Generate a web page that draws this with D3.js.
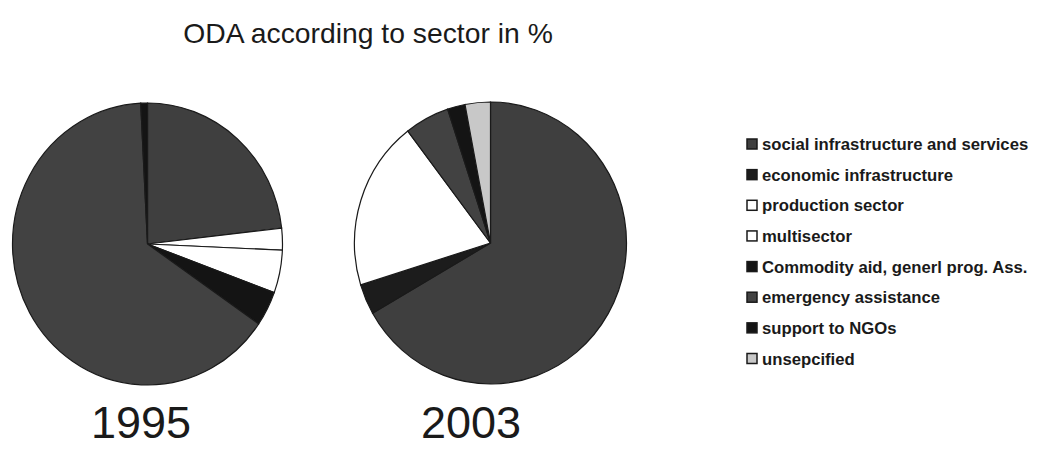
<!DOCTYPE html>
<html>
<head>
<meta charset="utf-8">
<script src="https://cdn.jsdelivr.net/npm/d3@7"></script>
<style>
  body { margin: 0; background: #fff; }
  svg { display: block; font-family: "Liberation Sans", Arial, sans-serif; }
</style>
</head>
<body>
<svg id="canvas" width="1042" height="450"></svg>
<script>
// sectors, in legend order
const categories = [
    'social infrastructure and services',
    'economic infrastructure',
    'production sector',
    'multisector',
    'Commodity aid, generl prog. Ass.',
    'emergency assistance',
    'support to NGOs',
    'unsepcified'
];

const years = ['1995', '2003'];

// shares in %
const values1995 = [23.2, 0, 2.5, 4.9, 4.0, 64.6, 0.8, 0];
const values2003 = [66.7, 3.5, 19.4, 0, 0, 5.3, 2.1, 3.0];

const sectorColors = ['#3f3f3f', '#1c1c1c', '#ffffff', '#ffffff', '#141414', '#424242', '#141414', '#c8c8c8'];

const canvas = d3.select('#canvas');

canvas.append('text')
    .attr('x', 368)
    .attr('y', 43)
    .attr('text-anchor', 'middle')
    .style('font-size', '28.3px')
    .style('fill', '#1a1a1a')
    .text('ODA according to sector in %');

const color = d3.scaleOrdinal().domain(categories).range(sectorColors);

const pie = d3.pie().sort(null).value(d => d.value);
const ry = 141;
const arc = d3.arc().innerRadius(0).outerRadius(ry);

const pies = [
    { year: years[0], values: values1995, cx: 147.5, cy: 244, rx: 135, labelX: 141 },
    { year: years[1], values: values2003, cx: 490.5, cy: 243, rx: 136, labelX: 471 }
];

pies.forEach(p => {
    let rows = categories.map((c, i) => ({ name: c, value: p.values[i] }));
    let g = canvas.append('g')
        .attr('transform', 'translate(' + p.cx + ',' + p.cy + ') scale(' + (p.rx / ry) + ',1)');

    g.selectAll('path')
        .data(pie(rows).filter(d => d.data.value > 0))
        .enter()
        .append('path')
        .attr('d', arc)
        .attr('fill', d => color(d.data.name))
        .attr('stroke', '#1a1a1a')
        .attr('stroke-width', 1.2)
        .attr('vector-effect', 'non-scaling-stroke');

    canvas.append('text')
        .attr('x', p.labelX)
        .attr('y', 438)
        .attr('text-anchor', 'middle')
        .style('font-size', '45px')
        .style('fill', '#1a1a1a')
        .text(p.year);
});

// legend
const legendY = d3.scalePoint().domain(categories).range([144, 358.5]);

let legend = canvas.append('g')
    .selectAll('g')
    .data(categories)
    .enter()
    .append('g')
    .attr('transform', d => 'translate(747,' + legendY(d) + ')');

legend.append('rect')
    .attr('x', 0)
    .attr('y', -5)
    .attr('width', 10)
    .attr('height', 10)
    .attr('fill', d => color(d))
    .attr('stroke', '#1a1a1a')
    .attr('stroke-width', 1.5);

legend.append('text')
    .attr('x', 15)
    .attr('y', 6)
    .style('font-size', '16.7px')
    .style('font-weight', 'bold')
    .style('fill', '#1a1a1a')
    .text(d => d);
</script>
</body>
</html>
